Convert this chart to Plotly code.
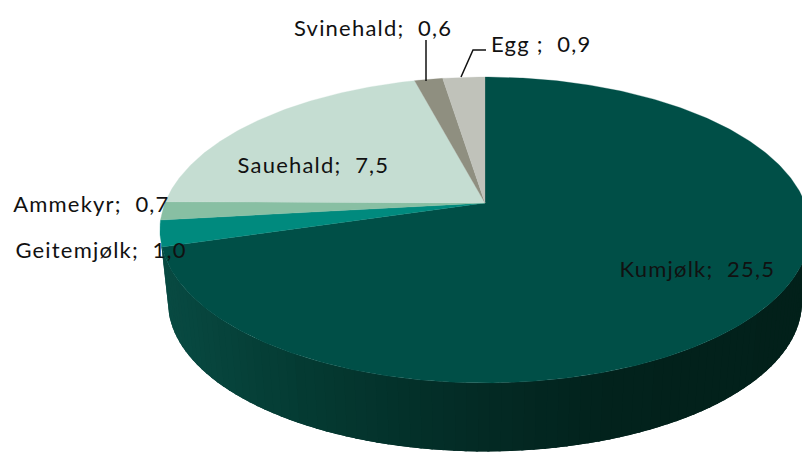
import math
import plotly.graph_objects as go

categories = ["Kumjølk", "Geitemjølk", "Ammekyr", "Sauehald", "Svinehald", "Egg"]
values = [25.5, 1.0, 0.7, 7.5, 0.6, 0.9]
colors = ["#004f47", "#008a7e", "#88bfa3", "#c5ddd2", "#8f8f80", "#c0c2ba"]
label_text = ["Kumjølk;\u00a0 25,5", "Geitemjølk;\u00a0 1,0", "Ammekyr;\u00a0 0,7",
              "Sauehald;\u00a0 7,5", "Svinehald;\u00a0 0,6", "Egg ;\u00a0 0,9"]
label_pos = [(626, 268), (23, 249), (19, 203), (244, 164), (301, 27), (495, 43)]

CX, CY = 485, 203      # projected centre of the pie
A, B, K = 320, 148.2, 0.1765   # perspective projection of the disc
DEPTH, SHRINK = 73, 0.975
total = sum(values)


def project(theta_deg, low=False):
    t = math.radians(theta_deg)
    u, v = math.sin(t), math.cos(t)
    d = 1 + K * v
    x, y = A * u / d, B * v / d
    if low:
        return CX + x * SHRINK, CY - y * SHRINK + DEPTH
    return CX + x, CY - y


def shade(x):
    stops = [(165, (8, 74, 66)), (300, (4, 58, 50)), (450, (3, 44, 38)),
             (600, (2, 34, 28)), (802, (2, 32, 26))]
    for (x0, c0), (x1, c1) in zip(stops, stops[1:]):
        if x <= x1:
            f = max(0, (x - x0) / (x1 - x0))
            return "rgb(%d,%d,%d)" % tuple(round(a + (b - a) * f) for a, b in zip(c0, c1))
    return "rgb(2,32,26)"


fig = go.Figure()

# side wall, drawn as narrow vertical shaded strips, each overlapping the next
N = 90
t0, t1 = 100.2, 255.0
step = (t1 - t0) / N
for i in range(N):
    a = t0 + step * i
    b = min(t1, a + step * 2.2)
    pts = [project(a + (b - a) * j / 4) for j in range(5)] + \
          [project(b - (b - a) * j / 4, True) for j in range(5)]
    xs = [p[0] for p in pts]
    col = shade(sum(xs) / len(xs))
    fig.add_trace(go.Scatter(x=xs, y=[p[1] for p in pts], mode="lines", fill="toself",
                             fillcolor=col, line=dict(color=col, width=0),
                             hoverinfo="skip", showlegend=False))

# top face
start = 0.0
for name, val, col in zip(categories, values, colors):
    sweep = 360 * val / total
    n = max(4, int(sweep * 1.5))
    pts = [project(start + sweep * j / n) for j in range(n + 1)]
    xs = [CX] + [p[0] for p in pts] + [CX]
    ys = [CY] + [p[1] for p in pts] + [CY]
    fig.add_trace(go.Scatter(x=xs, y=ys, mode="lines", fill="toself", fillcolor=col,
                             line=dict(color=col, width=0.3), name=name,
                             hoverinfo="name", showlegend=False))
    start += sweep

# leader lines
for lx, ly in [([426, 426], [40, 81]), ([461, 473, 486], [77, 50, 50])]:
    fig.add_trace(go.Scatter(x=lx, y=ly, mode="lines", line=dict(color="#111111", width=1.5),
                             hoverinfo="skip", showlegend=False))

for text, (x, y) in zip(label_text, label_pos):
    fig.add_annotation(x=x, y=y, text=text, showarrow=False, xanchor="left", yanchor="middle",
                       font=dict(family="Lato", size=22, color="#111111"))

fig.update_layout(width=802, height=453, margin=dict(l=0, r=0, t=0, b=0),
                  paper_bgcolor="white", plot_bgcolor="white",
                  xaxis=dict(range=[0, 802], visible=False, fixedrange=True),
                  yaxis=dict(range=[453, 0], visible=False, fixedrange=True))
fig.write_html("out.html", config=dict(displayModeBar=False),
               post_script="document.body.style.margin='0';document.body.style.overflow='hidden';"
                           "document.querySelectorAll('.annotation-text').forEach(function(t){t.style.letterSpacing='1.2px';});")
